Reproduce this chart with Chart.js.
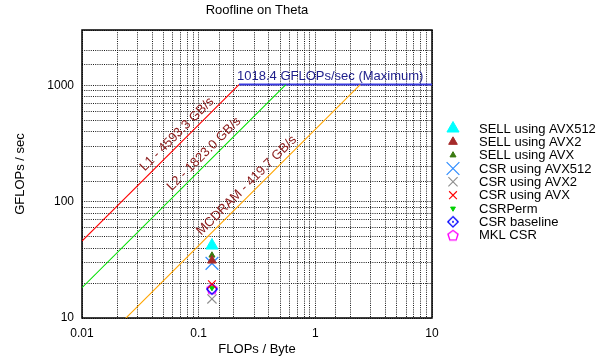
<!DOCTYPE html>
<html>
<head>
<meta charset="utf-8">
<title>Roofline on Theta</title>
<script src="https://cdn.jsdelivr.net/npm/chart.js"></script>
<style>
  html, body { margin: 0; padding: 0; background: #fff; }
</style>
</head>
<body>
<canvas id="chart" width="602" height="360"></canvas>
<script>
// --- data ---
const xRange = [0.01, 10];
const yRange = [10, 3000];
const xTicks = [0.01, 0.1, 1, 10];
const yTicks = [10, 100, 1000];

const roofNames = ['L1', 'L2', 'MCDRAM'];
const roofBandwidth = [4593.3, 1823.0, 419.7]; // GB/s
const peakGflops = 1018.4;

const seriesNames = [
  'SELL using AVX512', 'SELL using AVX2', 'SELL using AVX',
  'CSR using AVX512', 'CSR using AVX2', 'CSR using AVX',
  'CSRPerm', 'CSR baseline', 'MKL CSR'
];
const seriesFlopsPerByte = [0.13, 0.13, 0.13, 0.13, 0.13, 0.13, 0.13, 0.13, 0.13];
const seriesGflops = [42.0, 31.2, 34.6, 29.5, 14.6, 19.5, 18.1, 17.7, 17.9];

// --- styling ---
const FONT = '"Liberation Sans", Arial, Helvetica, sans-serif';
const roofColors = ['#ff0000', '#00e000', '#ffa500'];
const roofLabelAt = [0.037, 0.063, 0.113]; // where each rotated label starts
const roofLabelColor = '#8b1a1a';
const peakColor = '#3a3ae0';
const peakLabelColor = '#1e1e8c';

function makeMarker(size, draw) {
  const c = document.createElement('canvas');
  c.width = c.height = size;
  draw(c.getContext('2d'), size / 2);
  return c;
}
const pentagon = makeMarker(14, (g, m) => {
  g.strokeStyle = '#ff00ff';
  g.lineWidth = 1.4;
  g.beginPath();
  for (let k = 0; k < 5; k++) {
    const a = -Math.PI / 2 + k * 2 * Math.PI / 5;
    g.lineTo(m + 5.3 * Math.cos(a), m + 0.6 + 5.3 * Math.sin(a));
  }
  g.closePath();
  g.stroke();
});
const diamond = makeMarker(14, (g, m) => {
  g.strokeStyle = '#0000ff';
  g.fillStyle = '#0000ff';
  g.lineWidth = 1.3;
  g.beginPath();
  g.moveTo(m, m - 5.2); g.lineTo(m + 5.2, m); g.lineTo(m, m + 5.2); g.lineTo(m - 5.2, m);
  g.closePath();
  g.stroke();
  g.beginPath();
  g.arc(m, m, 1, 0, Math.PI * 2);
  g.fill();
});

const markerStyles = [
  { pointStyle: 'triangle', radius: 7, color: '#00ffff', width: 1 },
  { pointStyle: 'triangle', radius: 5, color: '#a52a2a', width: 1 },
  { pointStyle: 'triangle', radius: 3.5, color: '#3a7a10', width: 1 },
  { pointStyle: 'crossRot', radius: 9, color: '#2f8cff', width: 1.2 },
  { pointStyle: 'crossRot', radius: 6.5, color: '#8c8c8c', width: 1.1 },
  { pointStyle: 'crossRot', radius: 5.5, color: '#ff0000', width: 1.1 },
  { pointStyle: 'triangle', radius: 2.8, color: '#00d000', width: 1, rotation: 180 },
  { pointStyle: diamond, radius: 6, color: '#0000ff', width: 1 },
  { pointStyle: pentagon, radius: 6, color: '#ff00ff', width: 1 }
];

// --- datasets ---
const roofSets = roofNames.map((name, i) => ({
  type: 'line',
  label: name,
  isRoof: true,
  data: [
    { x: xRange[0], y: roofBandwidth[i] * xRange[0] },
    { x: peakGflops / roofBandwidth[i], y: peakGflops }
  ],
  borderColor: roofColors[i],
  borderWidth: 1.1,
  pointRadius: 0,
  fill: false
}));
roofSets.push({
  type: 'line',
  label: 'Maximum',
  isRoof: true,
  data: [
    { x: peakGflops / roofBandwidth[0], y: peakGflops },
    { x: xRange[1], y: peakGflops }
  ],
  borderColor: peakColor,
  borderWidth: 2,
  pointRadius: 0,
  fill: false
});

const pointSets = seriesNames.map((name, i) => {
  const s = markerStyles[i];
  return {
    type: 'scatter',
    label: name,
    data: [{ x: seriesFlopsPerByte[i], y: seriesGflops[i] }],
    pointStyle: s.pointStyle,
    rotation: s.rotation || 0,
    pointRadius: s.radius,
    backgroundColor: s.color,
    borderColor: s.color,
    borderWidth: s.width
  };
});

const isMajor = (v, list) => list.some(t => Math.abs(Math.log10(v) - Math.log10(t)) < 1e-6);

// rotated labels on the roofs + peak label
const roofLabels = {
  id: 'roofLabels',
  afterDatasetsDraw(chart) {
    const { ctx, scales: { x, y } } = chart;
    ctx.save();
    ctx.font = '13px ' + FONT;
    ctx.textBaseline = 'alphabetic';
    ctx.textAlign = 'left';
    roofNames.forEach((name, i) => {
      const bw = roofBandwidth[i];
      const a = roofLabelAt[i];
      const px = x.getPixelForValue(a), py = y.getPixelForValue(bw * a);
      const qx = x.getPixelForValue(a * 10), qy = y.getPixelForValue(bw * a * 10);
      ctx.save();
      ctx.translate(px, py);
      ctx.rotate(Math.atan2(qy - py, qx - px));
      ctx.fillStyle = roofLabelColor;
      ctx.fillText(name + ' - ' + bw.toFixed(1) + ' GB/s', 0, -5);
      ctx.restore();
    });
    const rx = x.getPixelForValue(peakGflops / roofBandwidth[0]);
    const ry = y.getPixelForValue(peakGflops);
    ctx.fillStyle = peakLabelColor;
    ctx.fillText(peakGflops.toFixed(1) + ' GFLOPs/sec (Maximum)', rx - 2, ry - 5);
    ctx.restore();
  }
};

// solid frame round the plot area
const frame = {
  id: 'frame',
  beforeDatasetsDraw(chart) {
    const { ctx, chartArea: a } = chart;
    ctx.save();
    ctx.strokeStyle = '#000';
    ctx.lineWidth = 1.5;
    ctx.strokeRect(a.left, a.top, a.right - a.left, a.bottom - a.top);
    ctx.restore();
  }
};

// gnuplot-like key on the right, markers drawn with Chart.js' own drawPoint
const sideLegend = {
  id: 'sideLegend',
  afterDraw(chart) {
    const { ctx } = chart;
    ctx.save();
    ctx.font = '13px ' + FONT;
    ctx.textBaseline = 'middle';
    ctx.textAlign = 'left';
    chart.data.datasets.filter(d => !d.isRoof).forEach((ds, i) => {
      const cy = 128.5 + i * 13.33;
      ctx.save();
      ctx.fillStyle = ds.backgroundColor;
      ctx.strokeStyle = ds.borderColor;
      ctx.lineWidth = ds.borderWidth;
      Chart.helpers.drawPoint(ctx, {
        pointStyle: ds.pointStyle,
        rotation: ds.rotation,
        radius: ds.pointRadius,
        borderWidth: ds.borderWidth
      }, 453, cy);
      ctx.restore();
      ctx.fillStyle = '#000';
      ctx.fillText(ds.label, 479, cy + 0.5);
    });
    ctx.restore();
  }
};

Chart.defaults.font.family = FONT;
Chart.defaults.color = '#000';

new Chart(document.getElementById('chart'), {
  type: 'scatter',
  data: { datasets: [...roofSets, ...pointSets] },
  plugins: [frame, roofLabels, sideLegend],
  options: {
    responsive: false,
    animation: false,
    events: [],
    layout: { padding: { left: 0, right: 170, top: 0, bottom: 0 } },
    plugins: {
      legend: { display: false },
      tooltip: { enabled: false },
      title: {
        display: true,
        text: 'Roofline on Theta',
        fullSize: false,
        color: '#000',
        font: { size: 13, weight: 'normal' },
        padding: { top: 3, bottom: 11.4 }
      }
    },
    scales: {
      x: {
        type: 'logarithmic',
        min: xRange[0],
        max: xRange[1],
        afterFit: s => { s.height = 42; },
        border: { display: false, dash: [1, 1.2] },
        grid: { color: '#1a1a1a', lineWidth: 1, drawTicks: false },
        ticks: {
          autoSkip: false,
          maxRotation: 0,
          padding: 8,
          font: { size: 12 },
          callback: v => (isMajor(v, xTicks) ? String(xTicks.find(t => isMajor(v, [t]))) : '')
        },
        title: {
          display: true,
          text: 'FLOPs / Byte',
          font: { size: 13 },
          padding: { top: 0, bottom: 2.5 }
        }
      },
      y: {
        type: 'logarithmic',
        min: yRange[0],
        max: yRange[1],
        afterFit: s => { s.width = 82; },
        border: { display: false, dash: [1, 1.2] },
        grid: { color: '#1a1a1a', lineWidth: 1, drawTicks: false },
        ticks: {
          autoSkip: false,
          padding: 8,
          font: { size: 12 },
          callback: v => (isMajor(v, yTicks) ? String(yTicks.find(t => isMajor(v, [t]))) : '')
        },
        title: {
          display: true,
          text: 'GFLOPs / sec',
          font: { size: 13 },
          padding: { top: 13, bottom: 0 }
        }
      }
    }
  }
});
</script>
</body>
</html>
